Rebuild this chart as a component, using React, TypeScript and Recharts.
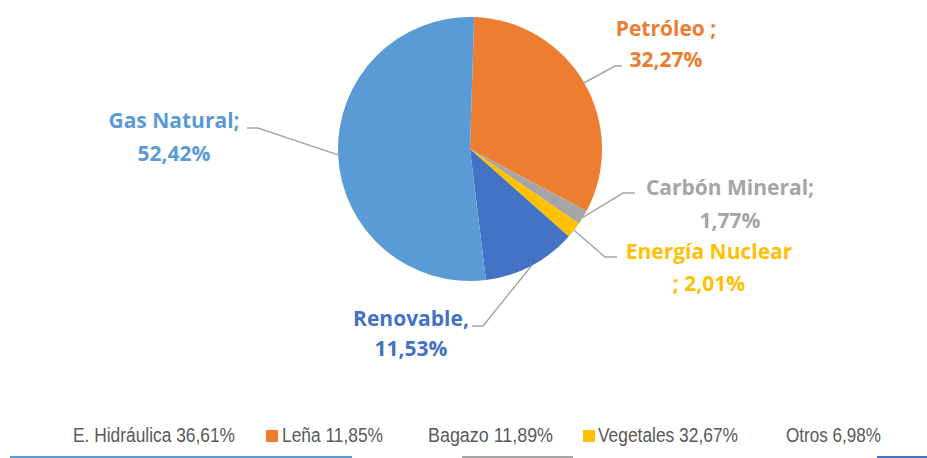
import { PieChart, Pie, Cell } from "recharts";

const categories = ["Petróleo", "Carbón Mineral", "Energía Nuclear", "Renovable", "Gas Natural"];
const shares = [32.27, 1.77, 2.01, 11.53, 52.42];
const labelTexts = [
  ["Petróleo ;", "32,27%"],
  ["Carbón Mineral;", "1,77%"],
  ["Energía Nuclear", "; 2,01%"],
  ["Renovable,", "11,53%"],
  ["Gas Natural;", "52,42%"],
];
const COLORS = ["#ED7D31", "#A5A5A5", "#FFC000", "#4472C4", "#5B9BD5"];

const legendNames = ["E. Hidráulica", "Leña", "Bagazo", "Vegetales", "Otros"];
const legendValues = ["36,61%", "11,85%", "11,89%", "32,67%", "6,98%"];

// manual label placement (elbow, end of horizontal tick, text centre / line y's)
const LABEL_LAYOUT = [
  { ex: 615, ey: 66, hx: 622, tx: 666, ty: [28, 59] },
  { ex: 623, ey: 193, hx: 635, tx: 730, ty: [187, 220] },
  { ex: 605, ey: 257, hx: 617, tx: 709, ty: [251, 283] },
  { ex: 483, ey: 326, hx: 472, tx: 411, ty: [318, 348] },
  { ex: 258, ey: 128, hx: 247, tx: 174, ty: [120, 153] },
];

// legend item placement: marker x (or null), text x, text width
const LEGEND_LAYOUT = [
  { mx: null, tx: 73, w: 162 },
  { mx: 266, tx: 282, w: 101 },
  { mx: null, tx: 428, w: 125 },
  { mx: 583, tx: 598, w: 140 },
  { mx: null, tx: 786, w: 95 },
];
const LEGEND_MARKER = ["#5B9BD5", "#ED7D31", "#A5A5A5", "#FFC000", "#4472C4"];

const data = categories.map((name, i) => ({ name, value: shares[i] }));

const RAD = Math.PI / 180;

function renderLabel(props: any) {
  const { cx, cy, midAngle, outerRadius, index } = props;
  const lay = LABEL_LAYOUT[index];
  const sx = cx + outerRadius * Math.cos(-midAngle * RAD);
  const sy = cy + outerRadius * Math.sin(-midAngle * RAD);
  return (
    <g key={`lbl-${index}`}>
      <polyline
        points={`${sx},${sy} ${lay.ex},${lay.ey} ${lay.hx},${lay.ey}`}
        fill="none"
        stroke="#A6A6A6"
        strokeWidth={1.5}
      />
      {labelTexts[index].map((t, j) => (
        <text
          key={j}
          x={lay.tx}
          y={lay.ty[j]}
          textAnchor="middle"
          dominantBaseline="central"
          fill={COLORS[index]}
          fontFamily="'Open Sans', sans-serif"
          fontWeight={700}
          fontSize={21}
        >
          {t}
        </text>
      ))}
    </g>
  );
}

export default function App() {
  return (
    <div style={{ position: "relative", width: 927, height: 458, background: "#fff" }}>
      <style>{"body{margin:0}"}</style>
      <PieChart width={927} height={458} margin={{ top: 0, right: 0, bottom: 0, left: 0 }}>
        <Pie
          data={data}
          dataKey="value"
          nameKey="name"
          cx={470}
          cy={149}
          outerRadius={132}
          startAngle={88.2}
          endAngle={-271.8}
          stroke="none"
          label={renderLabel}
          labelLine={false}
          isAnimationActive={false}
        >
          {data.map((d, i) => (
            <Cell key={d.name} fill={COLORS[i]} />
          ))}
        </Pie>
      </PieChart>
      <svg
        width={927}
        height={458}
        style={{ position: "absolute", left: 0, top: 0, pointerEvents: "none" }}
      >
        {legendNames.map((n, i) => {
          const l = LEGEND_LAYOUT[i];
          return (
            <g key={n}>
              {l.mx !== null && (
                <rect x={l.mx} y={430} width={12} height={12} fill={LEGEND_MARKER[i]} />
              )}
              <text
                x={l.tx}
                y={441.5}
                fill="#595959"
                fontFamily="'Liberation Sans', Arial, sans-serif"
                fontSize={20}
                textLength={l.w}
                lengthAdjust="spacingAndGlyphs"
              >
                {`${n} ${legendValues[i]}`}
              </text>
            </g>
          );
        })}
        <rect x={10} y={456} width={342} height={2} fill="#5B9BD5" />
        <rect x={462} y={456} width={111} height={2} fill="#A5A5A5" />
        <rect x={877} y={456} width={50} height={2} fill="#4472C4" />
      </svg>
    </div>
  );
}
